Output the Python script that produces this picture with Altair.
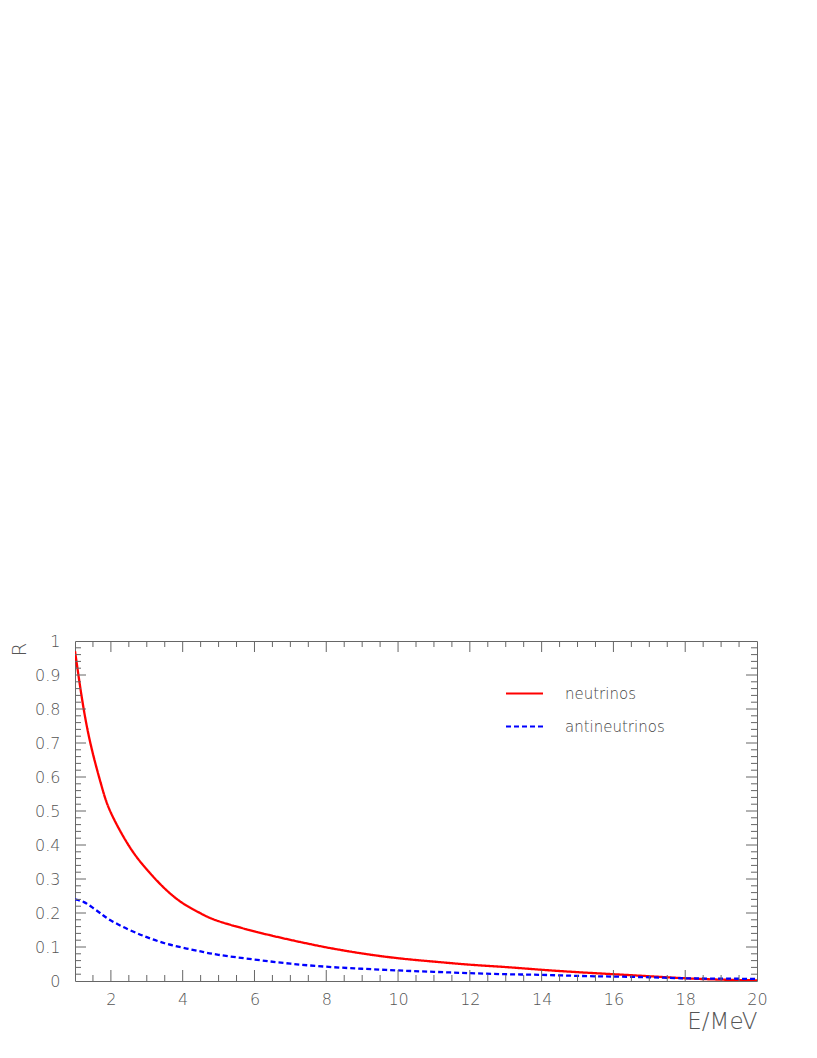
import altair as alt
import pandas as pd

# ---- data ----
energy = [1, 1.25, 1.5, 1.75, 2, 2.5, 3, 3.5, 4, 4.5, 5, 6, 7, 8, 9,
          10, 11, 12, 13, 14, 15, 16, 17, 18, 19, 20]
neutrinos = [0.97, 0.795, 0.668, 0.570, 0.495, 0.398, 0.328, 0.272, 0.229, 0.199,
             0.176, 0.146, 0.121, 0.099, 0.081, 0.067, 0.057, 0.048, 0.041,
             0.033, 0.026, 0.020, 0.014, 0.008, 0.004, 0.002]
antineutrinos = [0.24, 0.232, 0.215, 0.196, 0.178, 0.151, 0.129, 0.111, 0.098,
                 0.087, 0.077, 0.063, 0.051, 0.042, 0.036, 0.031, 0.027, 0.023,
                 0.020, 0.018, 0.015, 0.013, 0.011, 0.008, 0.007, 0.006]
series_names = ["neutrinos", "antineutrinos"]

x_label_values = [2, 4, 6, 8, 10, 12, 14, 16, 18, 20]
y_label_values = [0, 0.1, 0.2, 0.3, 0.4, 0.5, 0.6, 0.7, 0.8, 0.9, 1]
x_major_ticks = [2, 4, 6, 8, 10, 12, 14, 16, 18]
x_minor_ticks = [1.5, 2.5, 3, 3.5, 4.5, 5, 5.5, 6.5, 7, 7.5, 8.5, 9, 9.5,
                 10.5, 11, 11.5, 12.5, 13, 13.5, 14.5, 15, 15.5, 16.5, 17,
                 17.5, 18.5, 19, 19.5]
y_major_ticks = [0.1, 0.2, 0.3, 0.4, 0.5, 0.6, 0.7, 0.8, 0.9]
y_minor_ticks = [v / 100 for v in range(2, 100, 2) if v % 10 != 0]

# ---- layout / style ----
W, H = 682, 340
FONT = "DejaVu Sans"
FW = 200
AX = "#666666"
TXT = "#555555"
MAJ, MIN = 11, 6

n = len(energy)
df = pd.DataFrame({
    "E": energy * 2,
    "R": neutrinos + antineutrinos,
    "series": [series_names[0]] * n + [series_names[1]] * n,
})

xscale = alt.Scale(domain=[1, 20], nice=False, zero=False)
yscale = alt.Scale(domain=[0, 1], nice=False, zero=False)

xaxis = alt.Axis(
    values=x_label_values, ticks=False, grid=False, domain=False,
    labelPadding=10, labelFont=FONT, labelFontSize=16, labelFontWeight=FW, labelColor=TXT,
    labelFlush=False, labelOverlap=False, labelBound=False,
    title="E/MeV", titleFont=FONT, titleFontSize=23, titleFontWeight=FW,
    titleColor=TXT, titleAnchor="end", titleAlign="right", titleBaseline="middle",
    titleX=W, titleY=40)
yaxis = alt.Axis(
    values=y_label_values, format=".1~f", ticks=False, grid=False, domain=False,
    labelPadding=15, labelFont=FONT, labelFontSize=16, labelFontWeight=FW, labelColor=TXT,
    labelFlush=False, labelOverlap=False, labelBound=False,
    title="R", titleFont=FONT, titleFontSize=20, titleFontWeight=FW,
    titleColor=TXT, titleAngle=270, titleAlign="center", titleBaseline="middle",
    titleX=-56, titleY=8)

legend = alt.Legend(
    title=None, orient="none", legendX=430, legendY=33,
    symbolType="stroke", symbolSize=1369, symbolStrokeWidth=2,
    labelFont=FONT, labelFontSize=15, labelFontWeight=FW, labelColor="#444444",
    labelOffset=21, rowPadding=5,
)

lines = alt.Chart(df).mark_line(interpolate="natural", strokeWidth=2.3, clip=True).encode(
    x=alt.X("E:Q", scale=xscale, axis=xaxis),
    y=alt.Y("R:Q", scale=yscale, axis=yaxis),
    color=alt.Color("series:N", scale=alt.Scale(domain=series_names, range=["#ff0000", "#0000ff"]),
                    legend=legend),
    strokeDash=alt.StrokeDash("series:N", scale=alt.Scale(domain=series_names, range=[[1, 0], [5, 3]]),
                              legend=legend),
)


def xticks(values, length, top):
    d = pd.DataFrame({"E": values})
    if top:
        yy, yy2 = alt.value(0), alt.value(length)
    else:
        yy, yy2 = alt.value(H), alt.value(H - length)
    return alt.Chart(d).mark_rule(color=AX, strokeWidth=1).encode(
        x=alt.X("E:Q", scale=xscale, axis=xaxis), y=yy, y2=yy2)


def yticks(values, length, right):
    d = pd.DataFrame({"R": values})
    if right:
        xx, xx2 = alt.value(W), alt.value(W - length)
    else:
        xx, xx2 = alt.value(0), alt.value(length)
    return alt.Chart(d).mark_rule(color=AX, strokeWidth=1).encode(
        y=alt.Y("R:Q", scale=yscale, axis=yaxis), x=xx, x2=xx2)


tick_layers = [
    xticks(x_major_ticks, MAJ, False), xticks(x_minor_ticks, MIN, False),
    xticks(x_major_ticks, MAJ, True), xticks(x_minor_ticks, MIN, True),
    yticks(y_major_ticks, MAJ, False), yticks(y_minor_ticks, MIN, False),
    yticks(y_major_ticks, MAJ, True), yticks(y_minor_ticks, MIN, True),
]

chart = alt.layer(lines, *tick_layers).properties(
    width=W, height=H,
    padding={"left": 67, "top": 633, "right": 52, "bottom": 60},
    autosize=alt.AutoSizeParams(type="none"),
).configure_view(stroke=AX, strokeWidth=1)

chart.save("out.html", embed_options={"renderer": "svg", "actions": False})
